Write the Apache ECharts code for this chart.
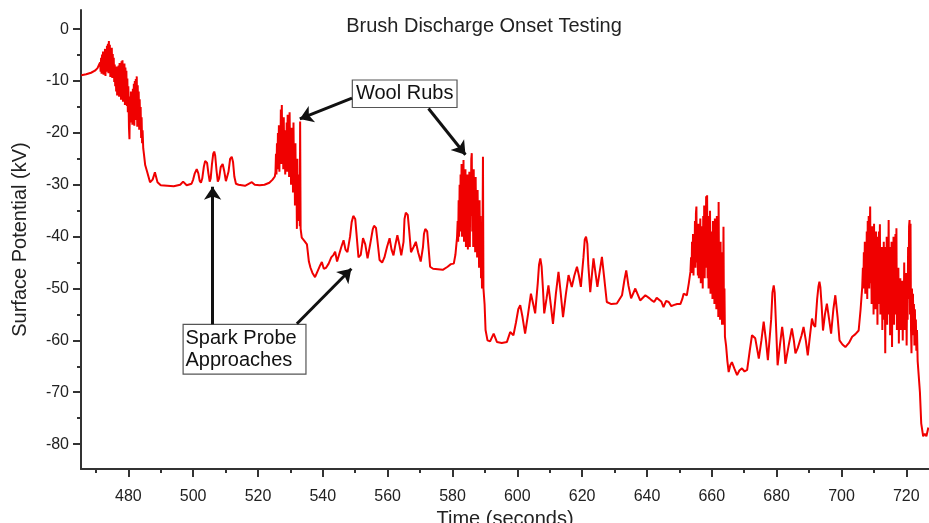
<!DOCTYPE html>
<html>
<head>
<meta charset="utf-8">
<title>Brush Discharge Onset Testing</title>
<script src="https://cdn.jsdelivr.net/npm/echarts@6/dist/echarts.min.js"></script>
<style>
    html, body { margin: 0; padding: 0; background: #fff; }
    #chart { width: 929px; height: 523px; }
</style>
</head>
<body>
<div id="chart"></div>
<script>
    // [time (s), surface potential (kV)], phase by phase
    const initialRub = [
        [465.5, -8.9], [467.0, -8.7], [468.5, -8.4], [469.7, -8.0], [470.5, -7.5], [471.0, -6.8],
        [471.3, -6.4], [471.45, -8.2], [471.6, -5.5], [471.75, -8.6], [471.9, -4.9], [472.05, -8.0],
        [472.2, -4.3], [472.35, -8.8], [472.5, -5.0], [472.65, -7.6], [472.8, -3.8], [472.95, -9.0],
        [473.1, -4.4], [473.25, -8.2], [473.4, -3.2], [473.55, -7.8], [473.7, -2.8], [473.85, -8.5],
        [474.0, -2.3], [474.15, -7.4], [474.3, -3.0], [474.45, -9.2], [474.6, -4.1], [474.75, -8.4],
        [474.9, -3.6], [475.05, -9.4], [475.2, -4.8], [475.35, -8.8], [475.5, -5.5], [475.65, -10.2],
        [475.8, -6.8], [475.95, -11.0], [476.1, -8.0], [476.25, -12.0], [476.4, -7.2], [476.55, -12.8],
        [476.7, -8.4], [476.85, -11.5], [477.0, -7.0], [477.15, -13.0], [477.3, -6.5], [477.45, -12.2],
        [477.6, -7.6], [477.75, -13.6], [477.9, -6.2], [478.05, -12.0], [478.2, -6.0], [478.35, -14.0],
        [478.5, -7.0], [478.65, -13.0], [478.8, -6.6], [478.95, -14.6], [479.1, -7.4], [479.25, -12.8],
        [479.4, -8.0], [479.55, -14.8], [479.7, -9.5], [479.85, -16.0], [480.0, -11.0], [480.2, -19.0],
        [480.35, -21.2], [480.5, -13.0], [480.65, -18.0], [480.8, -12.0], [480.95, -17.2], [481.1, -13.5],
        [481.25, -18.4], [481.4, -11.5], [481.55, -17.0], [481.7, -10.5], [481.85, -18.6], [482.0, -10.0],
        [482.15, -17.5], [482.3, -9.6], [482.45, -16.0], [482.6, -9.1], [482.75, -18.8], [482.9, -10.8],
        [483.05, -17.2], [483.2, -12.0], [483.35, -19.4], [483.5, -13.5], [483.65, -18.0], [483.8, -15.0],
        [483.95, -21.0], [484.1, -17.0], [484.25, -22.0], [484.4, -19.5], [484.6, -23.0], [484.8, -24.0],
        [485.2, -26.2], [485.8, -27.5], [486.7, -29.5], [487.5, -29.0], [488.2, -27.6], [489.0, -29.5]
    ]
    const sparkProbe1 = [
        [490.0, -30.1], [492.0, -30.2], [494.0, -30.3], [496.0, -30.0], [496.9, -29.4], [498.0, -30.1],
        [499.5, -29.8], [500.0, -29.0], [500.5, -27.8], [501.1, -27.0], [501.6, -27.8], [502.0, -29.2],
        [502.4, -29.6], [502.8, -28.8], [503.3, -26.5], [503.7, -25.4], [504.0, -25.2], [504.3, -25.8],
        [504.7, -27.8], [505.1, -29.4], [505.4, -28.8], [505.8, -26.0], [506.2, -24.0], [506.5, -23.6],
        [506.8, -24.4], [507.2, -27.2], [507.6, -29.4], [508.0, -28.8], [508.5, -26.6], [509.1, -26.0],
        [509.6, -27.4], [510.1, -29.3], [510.5, -29.4], [510.9, -27.5], [511.4, -25.0], [511.9, -24.6],
        [512.3, -25.6], [512.7, -28.4], [513.2, -29.8], [514.0, -30.0], [516.0, -30.2], [518.1, -29.5],
        [519.0, -30.0], [520.5, -30.1], [522.0, -30.0], [523.5, -29.6], [524.5, -29.0], [525.2, -28.4]
    ]
    const woolRub1 = [
        [525.4, -27.5], [525.55, -24.0], [525.7, -28.0], [525.85, -22.0], [526.0, -27.0], [526.15, -20.0],
        [526.3, -26.5], [526.45, -18.5], [526.6, -27.5], [526.75, -21.0], [526.9, -25.0], [527.05, -15.5],
        [527.2, -26.0], [527.35, -14.6], [527.5, -24.5], [527.65, -19.0], [527.8, -27.0], [527.95, -17.0],
        [528.1, -25.5], [528.25, -21.0], [528.4, -28.0], [528.55, -19.5], [528.7, -26.0], [528.85, -18.0],
        [529.0, -27.5], [529.15, -16.5], [529.3, -25.0], [529.45, -20.0], [529.6, -28.5], [529.75, -16.0],
        [529.9, -24.0], [530.05, -21.0], [530.2, -30.0], [530.35, -19.0], [530.5, -27.0], [530.65, -22.0],
        [530.8, -31.5], [530.95, -18.0], [531.1, -29.0], [531.25, -23.0], [531.4, -34.0], [531.55, -22.0],
        [531.7, -33.0], [531.85, -26.0], [532.0, -38.5], [532.15, -25.0], [532.3, -36.0], [532.45, -28.0],
        [532.6, -37.0], [532.75, -30.0], [532.9, -38.0], [533.0, -17.8], [533.15, -38.5], [533.5, -40.2]
    ]
    const sparkProbe2 = [
        [534.3, -40.8], [535.1, -41.5], [535.7, -44.8], [536.2, -46.0], [536.8, -47.0], [537.6, -47.8],
        [538.5, -46.5], [539.2, -45.5], [539.7, -44.9], [540.3, -46.2], [541.0, -46.0], [541.8, -45.2],
        [542.6, -44.0], [543.3, -43.5], [543.8, -42.9], [544.4, -44.8], [545.0, -44.5], [545.7, -42.0],
        [546.4, -40.7], [547.0, -42.5], [547.6, -43.0], [548.4, -40.0], [548.9, -37.2], [549.4, -36.0],
        [549.7, -35.8], [550.0, -36.6], [550.4, -39.5], [551.0, -44.0], [551.7, -43.5], [552.4, -40.3],
        [553.1, -41.5], [553.8, -44.2], [554.6, -41.5], [555.4, -38.6], [555.8, -37.9], [556.1, -37.8],
        [556.4, -38.3], [556.8, -40.5], [557.5, -44.5], [558.3, -45.0], [559.0, -44.0], [559.8, -42.0],
        [560.6, -40.3], [561.2, -42.5], [561.8, -43.6], [562.4, -41.5], [563.0, -39.7], [563.6, -41.5],
        [564.2, -43.6], [564.9, -41.0], [565.2, -36.6], [565.6, -35.4], [565.9, -35.2], [566.2, -35.8],
        [566.6, -38.5], [567.2, -43.0], [568.0, -42.0], [568.7, -41.0], [569.4, -43.0], [570.2, -44.8],
        [570.9, -42.0], [571.2, -39.5], [571.6, -38.5], [571.9, -38.4], [572.2, -39.0], [572.6, -42.0],
        [573.1, -45.8], [574.0, -46.2], [575.5, -46.3], [577.0, -46.4], [578.5, -45.8], [579.5, -45.3],
        [580.4, -45.2], [580.9, -43.5], [581.4, -40.2]
    ]
    const woolRub2 = [
        [581.6, -37.0], [581.75, -41.0], [581.9, -33.0], [582.05, -40.0], [582.2, -30.0], [582.35, -39.0],
        [582.5, -28.0], [582.65, -37.0], [582.8, -26.0], [582.95, -40.0], [583.1, -27.0], [583.25, -36.0],
        [583.4, -25.2], [583.55, -41.0], [583.7, -29.0], [583.85, -38.0], [584.0, -27.0], [584.15, -42.0],
        [584.3, -30.0], [584.45, -36.0], [584.6, -28.0], [584.75, -42.5], [584.9, -31.0], [585.05, -38.0],
        [585.2, -27.5], [585.35, -42.0], [585.5, -29.0], [585.65, -36.0], [585.8, -25.0], [585.95, -23.9],
        [586.1, -39.0], [586.25, -28.0], [586.4, -42.0], [586.55, -27.0], [586.7, -37.0], [586.85, -30.0],
        [587.0, -43.0], [587.15, -28.5], [587.3, -39.0], [587.45, -32.0], [587.6, -44.0], [587.75, -31.0],
        [587.9, -41.0], [588.05, -34.0], [588.2, -46.0], [588.35, -33.0], [588.5, -44.0], [588.65, -36.0],
        [588.8, -48.0], [588.95, -40.0], [589.1, -50.0], [589.25, -42.0], [589.4, -24.6], [589.55, -50.0],
        [589.9, -53.0], [590.2, -58.0]
    ]
    const sparkProbe3 = [
        [590.8, -60.0], [591.6, -60.2], [592.7, -58.7], [593.7, -60.3], [595.2, -60.5], [596.8, -60.3],
        [597.8, -58.4], [598.8, -59.0], [599.6, -56.5], [600.3, -54.0], [600.9, -53.2], [601.6, -55.5],
        [602.4, -58.7], [603.3, -55.0], [604.2, -51.0], [604.9, -53.0], [605.5, -54.8], [606.3, -49.0],
        [606.7, -45.4], [607.1, -44.2], [607.5, -45.8], [607.9, -50.0], [608.3, -54.8], [609.0, -52.0],
        [609.6, -49.4], [610.3, -53.0], [611.0, -56.8], [611.9, -51.0], [612.7, -46.8], [613.4, -51.0],
        [614.1, -55.5], [615.0, -51.0], [615.8, -47.4], [616.8, -49.7], [617.6, -47.5], [618.4, -45.8],
        [619.0, -47.5], [619.6, -49.7], [620.4, -44.0], [620.8, -40.6], [621.2, -40.0], [621.6, -41.4],
        [621.9, -45.5], [622.5, -50.7], [623.5, -44.2], [624.7, -49.7], [626.1, -43.9], [626.9, -48.5],
        [627.6, -52.6], [629.0, -53.0], [630.7, -52.9], [632.3, -51.3], [633.0, -48.5], [633.6, -46.5],
        [634.3, -49.5], [635.1, -51.9], [636.4, -50.0], [637.9, -52.3], [639.5, -51.3], [640.8, -51.9],
        [641.5, -52.3], [642.2, -52.6], [643.0, -51.8], [643.6, -51.6], [644.4, -52.5], [645.1, -53.6],
        [645.9, -52.4], [646.7, -52.6], [647.5, -53.4], [648.2, -53.2], [649.3, -53.0], [650.3, -53.0],
        [650.9, -52.0], [651.3, -51.0], [652.3, -51.3], [652.9, -49.0], [653.4, -46.8]
    ]
    const woolRub3 = [
        [653.6, -44.0], [653.75, -47.0], [653.9, -41.0], [654.05, -46.5], [654.2, -39.5], [654.35, -47.5],
        [654.5, -42.0], [654.65, -45.0], [654.8, -37.0], [654.95, -46.0], [655.1, -35.5], [655.25, -34.2],
        [655.4, -45.0], [655.55, -39.0], [655.7, -47.5], [655.85, -37.5], [656.0, -48.0], [656.15, -40.0],
        [656.3, -45.0], [656.45, -36.5], [656.6, -49.0], [656.75, -38.0], [656.9, -46.0], [657.05, -41.0],
        [657.2, -50.0], [657.35, -36.0], [657.5, -47.0], [657.65, -34.0], [657.8, -48.0], [657.95, -39.0],
        [658.1, -44.0], [658.25, -32.2], [658.4, -46.0], [658.55, -32.0], [658.7, -48.0], [658.85, -36.0],
        [659.0, -50.0], [659.15, -38.0], [659.3, -45.0], [659.45, -35.0], [659.6, -51.0], [659.75, -39.0],
        [659.9, -47.0], [660.05, -41.0], [660.2, -52.0], [660.35, -37.0], [660.5, -49.0], [660.65, -42.0],
        [660.8, -53.0], [660.95, -36.5], [661.1, -50.0], [661.25, -38.0], [661.4, -54.0], [661.55, -36.0],
        [661.7, -49.0], [661.85, -40.0], [662.0, -55.5], [662.1, -33.3], [662.25, -51.0], [662.4, -44.0],
        [662.55, -56.0], [662.7, -41.0], [662.85, -52.0], [663.0, -46.0], [663.15, -57.0], [663.3, -43.0],
        [663.45, -55.0], [663.6, -38.1], [663.75, -57.0], [663.9, -50.0], [664.05, -59.3], [664.4, -61.0],
        [664.8, -64.0], [665.2, -66.1]
    ]
    const sparkProbe4 = [
        [665.7, -64.8], [666.2, -64.2], [667.0, -65.5], [667.8, -66.7], [668.5, -65.8], [669.3, -65.4],
        [670.1, -66.0], [670.9, -65.7], [671.7, -62.0], [672.4, -59.0], [673.4, -59.6], [674.5, -63.5],
        [675.3, -60.0], [676.0, -56.4], [676.7, -60.0], [677.3, -63.8], [678.3, -56.0], [678.7, -50.8],
        [679.1, -49.4], [679.4, -50.8], [679.8, -57.0], [680.3, -64.8], [681.0, -61.0], [681.7, -57.4],
        [682.2, -60.0], [682.7, -64.5], [683.7, -61.0], [684.7, -57.7], [685.3, -60.0], [685.8, -62.5],
        [686.5, -61.5], [687.1, -61.3], [687.7, -59.0], [688.3, -57.4], [689.0, -60.0], [689.6, -62.9],
        [690.3, -59.0], [690.9, -55.8], [691.4, -57.0], [691.9, -57.4], [692.5, -52.0], [692.9, -49.6],
        [693.2, -48.7], [693.5, -49.8], [693.9, -53.5], [694.3, -58.1], [694.9, -55.0], [695.5, -52.9],
        [696.2, -56.0], [696.8, -58.7], [697.5, -54.0], [698.1, -51.3], [698.8, -55.5], [699.4, -60.0],
        [700.3, -60.8], [701.2, -61.3], [702.3, -60.5], [703.3, -59.3], [704.3, -58.8], [705.3, -58.1],
        [705.9, -54.0], [706.4, -49.7]
    ]
    const woolRub4 = [
        [706.6, -46.0], [706.75, -50.0], [706.9, -43.0], [707.05, -49.0], [707.2, -41.0], [707.35, -51.0],
        [707.5, -44.0], [707.65, -48.0], [707.8, -39.0], [707.95, -52.0], [708.1, -37.0], [708.25, -47.0],
        [708.4, -36.0], [708.55, -50.0], [708.7, -40.0], [708.85, -34.2], [709.0, -49.0], [709.15, -41.0],
        [709.3, -53.0], [709.45, -38.0], [709.6, -51.0], [709.75, -43.0], [709.9, -55.0], [710.05, -37.5],
        [710.2, -50.0], [710.35, -41.0], [710.5, -54.0], [710.65, -39.0], [710.8, -52.0], [710.95, -44.0],
        [711.1, -57.0], [711.25, -40.0], [711.4, -53.0], [711.55, -39.0], [711.7, -50.0], [711.85, -37.6],
        [712.0, -55.0], [712.15, -43.0], [712.3, -52.0], [712.45, -42.0], [712.6, -58.0], [712.75, -44.0],
        [712.9, -51.0], [713.05, -41.0], [713.2, -56.0], [713.35, -46.0], [713.5, -62.5], [713.65, -42.0],
        [713.8, -54.0], [713.95, -40.0], [714.1, -57.0], [714.25, -44.0], [714.4, -50.0], [714.55, -36.8],
        [714.7, -55.0], [714.85, -42.0], [715.0, -59.0], [715.15, -45.0], [715.3, -52.0], [715.45, -41.0],
        [715.6, -61.3], [715.75, -44.0], [715.9, -53.0], [716.05, -40.0], [716.2, -57.0], [716.35, -43.0],
        [716.5, -50.0], [716.65, -39.5], [716.8, -55.0], [716.95, -38.4], [717.1, -58.0], [717.25, -47.0],
        [717.4, -53.0], [717.55, -46.0], [717.7, -60.6], [717.85, -49.0], [718.0, -55.0], [718.15, -48.0],
        [718.3, -58.0], [718.45, -50.0], [718.6, -54.0], [718.75, -48.5], [718.9, -60.0], [719.05, -50.0],
        [719.2, -56.0], [719.35, -45.0], [719.5, -58.0], [719.65, -49.0], [719.8, -55.0], [719.95, -47.0],
        [720.1, -61.0], [720.25, -50.0], [720.4, -56.0], [720.55, -42.0], [720.7, -52.0], [720.85, -38.0],
        [721.0, -36.8], [721.15, -55.0], [721.3, -37.5], [721.45, -58.0], [721.6, -62.5], [721.75, -50.0],
        [721.9, -59.0], [722.05, -51.0], [722.2, -57.4], [722.35, -53.0], [722.5, -61.0], [722.65, -54.0],
        [722.8, -60.0], [722.95, -56.0], [723.1, -62.0], [723.3, -58.0], [723.5, -64.0], [724.2, -70.0],
        [724.6, -76.0], [725.2, -78.5], [725.7, -78.0], [726.2, -78.5], [726.8, -76.8]
    ]

    const xMajorTicks = [480, 500, 520, 540, 560, 580, 600, 620, 640, 660, 680, 700, 720]
    const xMinorTicks = [470, 490, 510, 530, 550, 570, 590, 610, 630, 650, 670, 690, 710]
    const yMajorTicks = [0, -10, -20, -30, -40, -50, -60, -70, -80]
    const yMinorTicks = [-5, -15, -25, -35, -45, -55, -65, -75]

    const trace = [].concat(initialRub, sparkProbe1, woolRub1, sparkProbe2, woolRub2,
        sparkProbe3, woolRub3, sparkProbe4, woolRub4)

    const font = '"Liberation Sans", Arial, Helvetica, sans-serif'
    const axisColor = '#333'
    const xRange = { min: 465.4, max: 727 }
    const yRange = { min: -84.8, max: 3.7 }

    const chart = echarts.init(document.getElementById('chart'))
    chart.setOption({
        animation: false,
        backgroundColor: '#fff',
        textStyle: { fontFamily: font },
        graphic: [{
            type: 'text',
            x: 484,
            y: 26,
            style: {
                text: 'Brush Discharge Onset Testing',
                fontSize: 20,
                fontFamily: font,
                fill: '#222',
                align: 'center',
                verticalAlign: 'middle'
            }
        }],
        grid: { left: 81, right: 0, top: 10, bottom: 54, containLabel: false, outerBoundsMode: 'none' },
        xAxis: [{
            type: 'value',
            min: xRange.min,
            max: xRange.max,
            name: 'Time (seconds)',
            nameLocation: 'middle',
            nameGap: 33,
            nameTextStyle: { fontSize: 20, color: '#222', fontFamily: font },
            axisLine: { onZero: false, lineStyle: { color: axisColor, width: 2 } },
            axisTick: { length: 8, customValues: xMajorTicks, lineStyle: { color: axisColor, width: 2 } },
            axisLabel: { customValues: xMajorTicks, fontSize: 16, color: '#222', margin: 20, fontFamily: font },
            splitLine: { show: false }
        }, {
            type: 'value',
            min: xRange.min,
            max: xRange.max,
            position: 'bottom',
            axisLine: { show: false, onZero: false },
            axisTick: { length: 4, customValues: xMinorTicks, lineStyle: { color: axisColor, width: 2 } },
            axisLabel: { show: false },
            splitLine: { show: false }
        }],
        yAxis: [{
            type: 'value',
            min: yRange.min,
            max: yRange.max,
            name: 'Surface Potential (kV)',
            nameLocation: 'middle',
            nameGap: 51,
            nameTextStyle: { fontSize: 20, color: '#222', fontFamily: font },
            axisLine: { show: true, onZero: false, lineStyle: { color: axisColor, width: 2 } },
            axisTick: { show: true, length: 8, customValues: yMajorTicks, lineStyle: { color: axisColor, width: 2 } },
            axisLabel: { customValues: yMajorTicks, fontSize: 16, color: '#222', margin: 12, fontFamily: font },
            splitLine: { show: false }
        }, {
            type: 'value',
            min: yRange.min,
            max: yRange.max,
            position: 'left',
            axisLine: { show: false, onZero: false },
            axisTick: { show: true, length: 4, customValues: yMinorTicks, lineStyle: { color: axisColor, width: 2 } },
            axisLabel: { show: false },
            splitLine: { show: false }
        }],
        series: [
            {
                type: 'line',
                data: trace,
                showSymbol: false,
                symbol: 'none',
                lineStyle: { color: '#f00000', width: 2 },
                z: 2
            },
            {
                type: 'lines',
                coordinateSystem: 'cartesian2d',
                silent: true,
                symbol: ['none', 'arrow'],
                symbolSize: 13,
                lineStyle: { color: '#111', width: 3, opacity: 1, curveness: 0 },
                z: 4,
                data: [
                    { coords: [[549.0, -13.3], [532.9, -17.3]] },
                    { coords: [[572.6, -15.3], [584.0, -24.2]] },
                    { coords: [[506.0, -56.9], [506.0, -30.4]] },
                    { coords: [[532.0, -56.8], [548.8, -46.2]] }
                ],
                markArea: {
                    silent: true,
                    itemStyle: { color: '#fff', borderColor: '#555', borderWidth: 1.2, opacity: 1 },
                    label: {
                        show: true,
                        position: 'inside',
                        fontSize: 20,
                        lineHeight: 22,
                        color: '#111',
                        fontFamily: font
                    },
                    data: [
                        [{ name: 'Wool Rubs', xAxis: 549.1, yAxis: -9.8 }, { xAxis: 581.4, yAxis: -15.1 }],
                        [{
                            name: 'Spark Probe\nApproaches',
                            xAxis: 496.9,
                            yAxis: -56.9,
                            label: { position: 'insideLeft', distance: 3, align: 'left' }
                        }, { xAxis: 534.8, yAxis: -66.5 }]
                    ]
                }
            }
        ]
    })
</script>
</body>
</html>
